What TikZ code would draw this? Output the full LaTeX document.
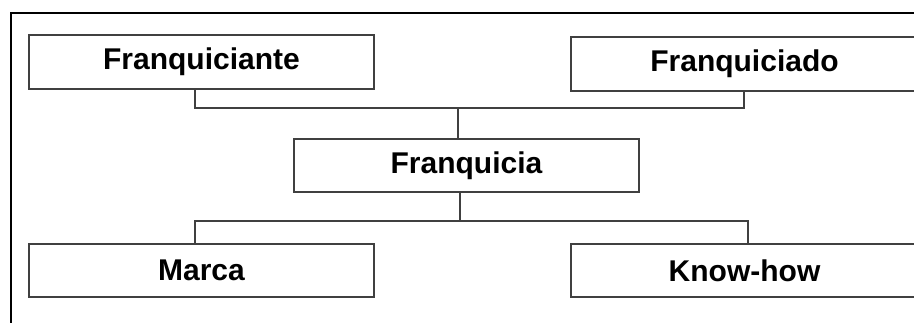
\documentclass[tikz,border=0pt]{standalone}
\usepackage{fontspec}
\setmainfont{Liberation Sans}
\begin{document}
\begin{tikzpicture}[x=1pt,y=-1pt,
  boxnode/.style={draw=black!75,line width=2pt,fill=white,minimum width=345pt,minimum height=54pt,inner sep=0pt,
    font=\fontsize{30}{36}\selectfont\bfseries,text=black},
  conn/.style={draw=black!75,line width=2pt}]
\useasboundingbox (0,0) rectangle (914,322);
\clip (0,0) rectangle (914,322);
\fill[white] (0,0) rectangle (914,322);
\draw[black,line width=2pt] (11,340) -- (11,13) -- (930,13);
\node[boxnode] (fte) at (201.5,62) {Franquiciante};
\node[boxnode,minimum width=347pt] (fdo) at (744.5,64) {Franquiciado};
\node[boxnode,minimum height=53pt] (fra) at (466.5,165.5) {Franquicia};
\node[boxnode,minimum height=53pt] (mar) at (201.5,270.5) {Marca};
\node[boxnode,minimum height=53pt,minimum width=347pt] (kh) at (744.5,270.5) {Know-how};
\coordinate (a1) at (195,108);
\coordinate (a2) at (744,108);
\coordinate (am) at (458,108);
\coordinate (b1) at (195,221);
\coordinate (b2) at (748,221);
\coordinate (bm) at (460,221);
\draw[conn] (fte.south -| a1) -- (a1) -- (a2) -- (fdo.south -| a2);
\draw[conn] (am) -- (fra.north -| am);
\draw[conn] (fra.south -| bm) -- (bm);
\draw[conn] (mar.north -| b1) -- (b1) -- (b2) -- (kh.north -| b2);
\end{tikzpicture}
\end{document}
